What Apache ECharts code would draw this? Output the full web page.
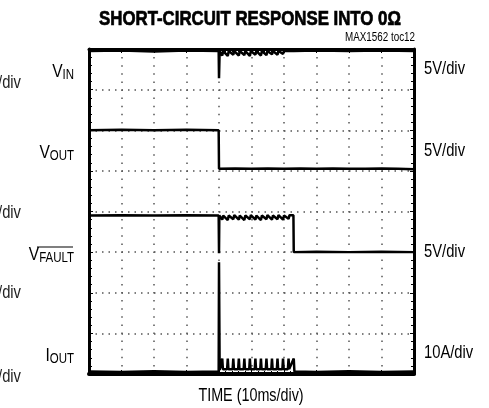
<!DOCTYPE html>
<html><head><meta charset="utf-8">
<script src="https://cdn.jsdelivr.net/npm/echarts@6/dist/echarts.min.js"></script>
<style>html,body{margin:0;padding:0;background:#fff}#c{width:489px;height:408px}</style>
</head><body><div id="c"></div>
<script>
// time axis in divisions (10 ms/div), value axis in divisions
const xTicks = [0,1,2,3,4,5,6,7,8,9,10];
const yTicks = [0,1,2,3,4,5,6,7,8];

const vinTrace = [[0,7.95],[1,7.96],[2,7.94],[3,7.96],[3.99,7.95],[4.0,7.28],[4.02,7.95],
  [4.1,7.84],[4.13,7.95],[4.27,7.83],[4.3,7.95],[4.44,7.86],[4.47,7.95],[4.61,7.84],[4.64,7.95],
  [4.78,7.85],[4.81,7.95],[4.95,7.83],[4.98,7.95],[5.12,7.86],[5.15,7.95],[5.29,7.84],[5.32,7.95],
  [5.46,7.85],[5.49,7.95],[5.63,7.87],[5.66,7.95],[5.8,7.86],[5.83,7.95],[5.97,7.88],[6.0,7.95],
  [6.3,7.95],[7,7.96],[8,7.95],[9,7.96],[10,7.95]];

const voutTrace = [[0,6.0],[1,6.01],[2,6.0],[3,6.01],[3.99,6.0],[4.0,5.05],[4.5,5.06],[5,5.05],
  [5.5,5.06],[6,5.05],[6.5,5.06],[7,5.05],[7.5,5.06],[8,5.05],[8.5,5.05],[9,5.06],[9.5,5.05],[10,5.04]];

const vfaultTrace = [[0,3.9],[1,3.91],[2,3.9],[3,3.91],[3.99,3.9],[4.0,2.97],[4.01,3.9],
  [4.1,3.8],[4.13,3.9],[4.27,3.79],[4.3,3.9],[4.44,3.81],[4.47,3.91],[4.61,3.8],[4.64,3.9],
  [4.78,3.79],[4.81,3.9],[4.95,3.81],[4.98,3.91],[5.12,3.8],[5.15,3.9],[5.29,3.79],[5.32,3.9],
  [5.46,3.81],[5.49,3.91],[5.63,3.8],[5.66,3.9],[5.8,3.81],[5.83,3.91],[5.97,3.8],[6.0,3.9],
  [6.14,3.82],[6.17,3.91],[6.29,3.91],[6.3,3.0],[7,3.01],[8,3.0],[9,3.01],[10,3.0]];

const ioutTrace = [[0,0.06],[1,0.05],[2,0.07],[3,0.05],[3.99,0.06],[4.0,2.75],[4.02,0.1],
  [4.08,0.12],[4.1,0.38],[4.12,0.12],[4.25,0.12],[4.27,0.38],[4.29,0.12],[4.42,0.12],[4.44,0.38],[4.46,0.12],
  [4.59,0.12],[4.61,0.38],[4.63,0.12],[4.76,0.12],[4.78,0.38],[4.8,0.12],[4.93,0.12],[4.95,0.38],[4.97,0.12],
  [5.1,0.12],[5.12,0.38],[5.14,0.12],[5.27,0.12],[5.29,0.38],[5.31,0.12],[5.44,0.12],[5.46,0.38],[5.48,0.12],
  [5.61,0.12],[5.63,0.38],[5.65,0.12],[5.78,0.12],[5.8,0.38],[5.82,0.12],[5.95,0.12],[5.97,0.38],[5.99,0.12],
  [6.12,0.12],[6.14,0.38],[6.16,0.12],[6.22,0.12],[6.3,0.38],[6.32,0.06],[7,0.05],[8,0.07],[9,0.05],[10,0.06]];

const leftLabels = [
  {main:'V', sub:'IN', y:72},
  {main:'V', sub:'OUT', y:153},
  {main:'V', sub:'FAULT', y:255},
  {main:'I', sub:'OUT', y:356}
];
const rightLabels = [
  {text:'5V/div', y:69},
  {text:'5V/div', y:151},
  {text:'5V/div', y:252},
  {text:'10A/div', y:353}
];
const edgeLabels = [{text:'5V/div', y:83},{text:'5V/div', y:213},{text:'5V/div', y:293},{text:'5V/div', y:377}];

const FONT = '"Liberation Sans",Arial,sans-serif';
const NARROW = 0.82;
const chart = echarts.init(document.getElementById('c'), null, {renderer:'canvas'});

function axisCommon(pos, width, grid) {
  return {
    type:'value', position:pos, min:0, max:pos==='left'||pos==='right'?8:10, interval:1,
    axisLine:{show:true, onZero:false, lineStyle:{color:'#000', width:width}},
    axisTick:{show:true, inside:true, length:4, lineStyle:{color:'#000', width:1}},
    minorTick:{show:true, splitNumber:5, length:3, lineStyle:{color:'#000', width:1}},
    axisLabel:{show:false},
    splitLine:{show:grid, lineStyle:{color:'#555', width:1.5, type:pos==='bottom'?[1.5,6.6]:[1.5,5]}},
    minorSplitLine:{show:false}
  };
}

function txt(x, y, text, font, align, fill, stroke) {
  const st = {x:0, y:0, text:text, font:font, fill:fill||'#000', align:align, verticalAlign:'middle'};
  if (stroke) { st.stroke = '#000'; st.lineWidth = stroke; }
  return {type:'text', x:x, y:y, scaleX:NARROW, style:st};
}

const graphics = [];
graphics.push(txt(250, 19, 'SHORT-CIRCUIT RESPONSE INTO 0\u03A9', 'bold 20.5px '+FONT, 'center', '#000', 0.7));
graphics.push(txt(415, 38, 'MAX1562 toc12', '12px '+FONT, 'right'));
graphics.push(txt(251, 396, 'TIME (10ms/div)', '17.5px '+FONT, 'center'));
leftLabels.forEach(l => {
  graphics.push({type:'text', x:74, y:l.y, scaleX:NARROW, style:{x:0, y:0, text:'{m|'+l.main+'}{s|'+l.sub+'}', align:'right', verticalAlign:'middle', fill:'#000',
    rich:{m:{fontFamily:FONT, fontSize:19, lineHeight:19, verticalAlign:'bottom'}, s:{fontFamily:FONT, fontSize:14, lineHeight:19, verticalAlign:'bottom', padding:[0,0,-1,0]}}}});
});
graphics.push({type:'line', shape:{x1:37, y1:247, x2:73, y2:247}, style:{stroke:'#000', lineWidth:1.2}});
rightLabels.forEach(l => graphics.push(txt(424, l.y, l.text, '18px '+FONT, 'left')));
edgeLabels.forEach(l => graphics.push(txt(21, l.y, l.text, '18px '+FONT, 'right', '#222')));

function trace(data) {
  return {type:'line', data:data, xAxisIndex:0, yAxisIndex:0, showSymbol:false, symbol:'none',
    lineStyle:{color:'#000', width:2.5}, silent:true, animation:false};
}

chart.setOption({
  animation:false,
  backgroundColor:'#fff',
  grid:{left:89, top:49, width:325, height:325},
  xAxis:[axisCommon('bottom',4,true), axisCommon('top',3,false)],
  yAxis:[axisCommon('left',3,true), axisCommon('right',3,false)],
  series:[trace(vinTrace), trace(voutTrace), trace(vfaultTrace), trace(ioutTrace)],
  graphic:graphics
});
</script></body></html>
